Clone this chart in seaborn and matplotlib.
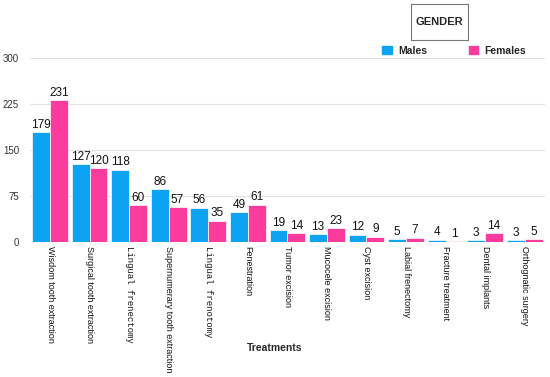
import matplotlib
matplotlib.use("Agg")
import matplotlib.pyplot as plt
import seaborn as sns
import pandas as pd
from matplotlib.patches import Patch, Rectangle

treatments = ["Wisdom tooth extraction", "Surgical tooth extraction", "Lingual frenectomy",
              "Supernumerary tooth extraction", "Lingual frenotomy", "Fenestration",
              "Tumor excision", "Mucocele excision", "Cyst excision", "Labial frenectomy",
              "Fracture treatment", "Dental implants", "Orthognatic surgery"]
males = [179, 127, 118, 86, 56, 49, 19, 13, 12, 5, 4, 3, 3]
females = [231, 120, 60, 57, 35, 61, 14, 23, 9, 7, 1, 14, 5]
yticks = [0, 75, 150, 225, 300]

df = pd.DataFrame({
    "Treatment": treatments * 2,
    "Count": males + females,
    "Gender": ["Males"] * len(males) + ["Females"] * len(females),
})

sns.set_style("white")
plt.rcParams['font.family'] = ['Liberation Sans', 'DejaVu Sans']

fig = plt.figure(figsize=(5.5, 3.77), dpi=100)
ax = fig.add_axes([0.055, 0.358, 0.935, 0.488])
palette = {"Males": "#0BA3F2", "Females": "#FC3C9C"}
sns.barplot(data=df, x="Treatment", y="Count", hue="Gender", palette=palette,
            width=0.9, ax=ax, legend=False, saturation=1, edgecolor="white", linewidth=0.5)

for c in ax.containers:
    ax.bar_label(c, fontsize=8.5, padding=1, color="#111111")

ax.set_ylim(0, 300)
ax.set_yticks(yticks)
ax.set_yticklabels([str(v) for v in yticks], fontsize=7, color="#333333")
ax.yaxis.grid(True, color="#e3e3e3", linewidth=0.8)
ax.set_axisbelow(True)
for s in ax.spines.values():
    s.set_visible(False)
ax.tick_params(axis="y", length=0, pad=8)
ax.tick_params(axis="x", length=0, pad=3)
ax.set_xlim(-0.5, len(treatments) - 0.5)
ax.set_xticks(range(len(treatments)))
ax.set_xticklabels(treatments, rotation=270, fontsize=6.5, va="top", ha="center", color="#111111")
for lbl in ax.get_xticklabels():
    if lbl.get_text().startswith("Lingual"):
        lbl.set_family(["Liberation Mono", "DejaVu Sans Mono"])
ax.set_xlabel("")
ax.set_ylabel("")
fig.text(0.5, 0.077, "Treatments", ha="center", va="center", fontsize=7.5, fontweight="bold")

handles = [Patch(color=palette["Males"], label="Males"), Patch(color=palette["Females"], label="Females")]
fig.legend(handles=handles, loc="center left", bbox_to_anchor=(0.678, 0.866), ncol=2,
           frameon=False, handlelength=0.9, handleheight=0.9,
           columnspacing=4.0, handletextpad=0.6, prop={"weight": "bold", "size": 7.5})
fig.patches.append(Rectangle((411 / 550, 1 - 40 / 377), 57 / 550, 36 / 377,
                             transform=fig.transFigure, fc="white", ec="#777777", lw=0.8))
fig.text(439.5 / 550, 1 - 22 / 377, "GENDER", ha="center", va="center", fontsize=8, fontweight="bold")

fig.savefig("out.png", dpi=100)
